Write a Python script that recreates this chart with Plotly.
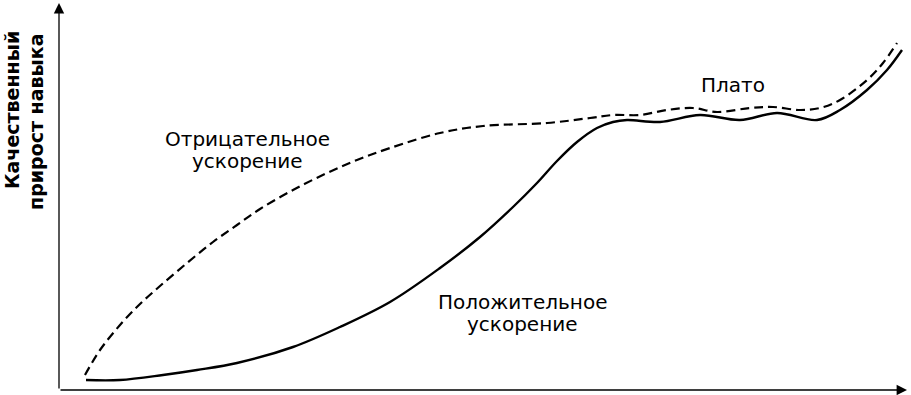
import plotly.graph_objects as go

# Positive acceleration (solid) curve: time vs skill gain
time_solid = [27, 61, 104, 138, 178, 234, 281, 331, 381, 421, 454, 478, 498, 518, 538, 554, 568, 601, 641, 681, 718, 758, 781, 808, 828, 843]
skill_solid = [10, 10, 15, 20, 27, 43, 63, 88, 122, 153, 183, 207, 229, 248, 262, 268, 270, 268, 275, 270, 277, 270, 280, 300, 320, 340]

# Negative acceleration (dashed) curve
time_dashed = [26, 41, 61, 81, 101, 128, 154, 178, 201, 234, 268, 298, 331, 381, 424, 488, 531, 554, 581, 608, 634, 658, 691, 714, 741, 761, 781, 808, 824, 838]
skill_dashed = [15, 40, 65, 86, 104, 127, 148, 165, 181, 200, 217, 230, 242, 257, 264, 267, 272, 275, 275, 280, 282, 278, 282, 283, 280, 282, 290, 310, 327, 347]

label_neg = ["Отрицательное", "ускорение"]
label_pos = ["Положительное", "ускорение"]
label_plateau = "Плато"
y_title = ["Качественный", "прирост навыка"]

FONT = "DejaVu Sans, Liberation Sans, Arial, sans-serif"

fig = go.Figure()
fig.add_trace(go.Scatter(x=time_dashed, y=skill_dashed, mode="lines",
                         line=dict(color="black", width=2.2, dash="9px,5px", shape="spline", smoothing=1.0),
                         hoverinfo="skip"))
fig.add_trace(go.Scatter(x=time_solid, y=skill_solid, mode="lines",
                         line=dict(color="black", width=2.4, shape="spline", smoothing=1.0),
                         hoverinfo="skip"))

W, H = 911, 395


def px_x(p):
    return p / W


def px_y(p):
    return 1 - p / H


ann = []
# axes with arrows
ann.append(dict(x=848, y=0, ax=0, ay=0, xref="x", yref="y", axref="x", ayref="y",
                showarrow=True, arrowhead=2, arrowsize=1.6, arrowwidth=1.3, arrowcolor="black", text=""))
ann.append(dict(x=0, y=387, ax=0, ay=0, xref="x", yref="y", axref="x", ayref="y",
                showarrow=True, arrowhead=2, arrowsize=1.6, arrowwidth=1.3, arrowcolor="black", text=""))

txtfont = dict(family=FONT, size=20, color="black")
# (text, center px x, center px y)
for text, cx, cy in [(label_neg[0], 248, 139), (label_neg[1], 248, 161),
                     (label_pos[0], 522, 302), (label_pos[1], 522, 324),
                     (label_plateau, 733, 85)]:
    ann.append(dict(x=px_x(cx), y=px_y(cy), xref="paper", yref="paper", text=text,
                    xanchor="center", yanchor="middle", showarrow=False, font=txtfont))

for text, cx, cy in [(y_title[0], 12, 110), (y_title[1], 36, 122)]:
    ann.append(dict(x=px_x(cx), y=px_y(cy), xref="paper", yref="paper", text="<b>" + text + "</b>",
                    xanchor="center", yanchor="middle", textangle=-90, showarrow=False,
                    font=dict(family=FONT, size=19, color="black")))

fig.update_layout(
    width=W, height=H,
    margin=dict(l=0, r=0, t=0, b=0),
    paper_bgcolor="white", plot_bgcolor="white",
    showlegend=False,
    xaxis=dict(range=[-59, 852], visible=False, fixedrange=True),
    yaxis=dict(range=[-5, 390], visible=False, fixedrange=True),
    annotations=ann,
)

fig.write_html("out.html", config={"displayModeBar": False},
               post_script="document.body.style.margin='0';document.body.style.overflow='hidden';")
